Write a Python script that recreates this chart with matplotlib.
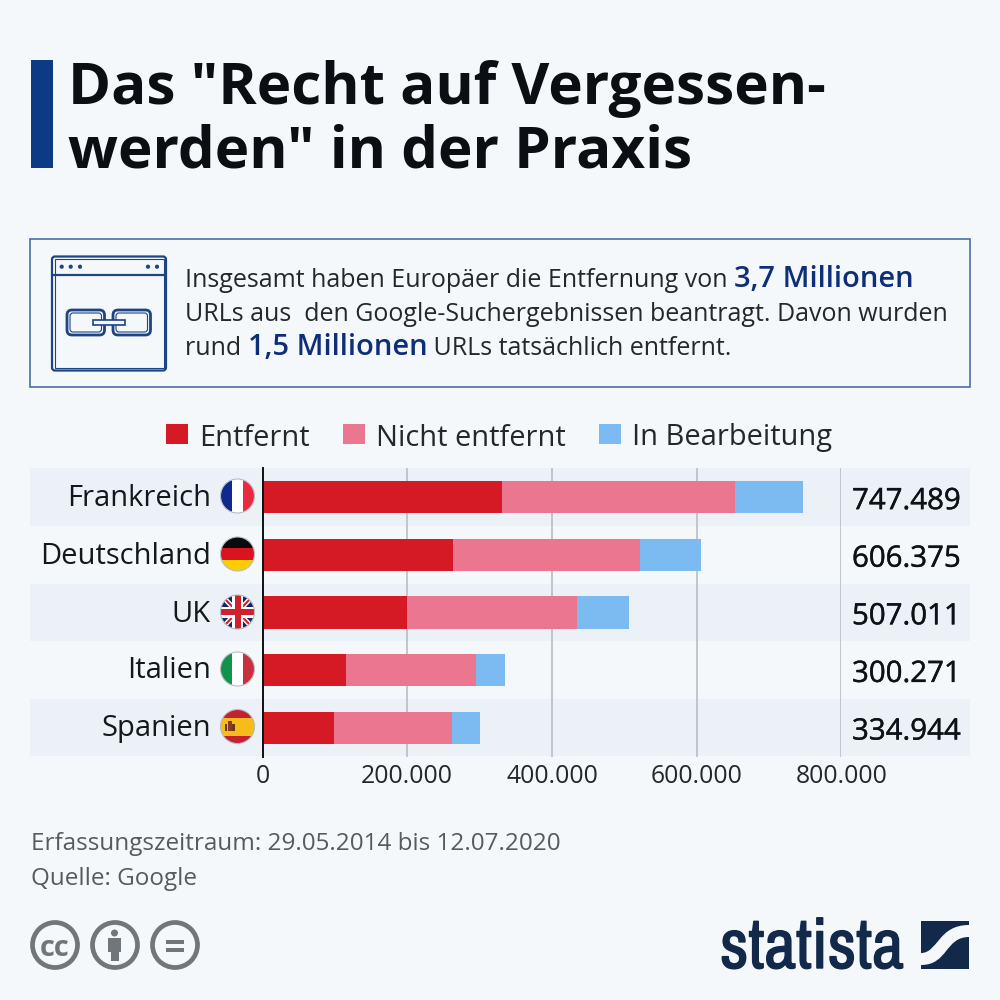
import numpy as np
import matplotlib
matplotlib.use('Agg')
import matplotlib.pyplot as plt
import matplotlib.patheffects as pe
from matplotlib import font_manager
from matplotlib.patches import Circle, Rectangle, FancyBboxPatch, Polygon, PathPatch
from matplotlib.path import Path

countries = ['Frankreich', 'Deutschland', 'UK', 'Italien', 'Spanien']
entfernt = [331500, 263500, 199500, 115000, 99000]
nicht_entfernt = [321500, 258500, 235500, 180000, 162500]
in_bearbeitung = [94489, 84375, 72011, 39944, 38771]
total_labels = ['747.489', '606.375', '507.011', '300.271', '334.944']
x_ticks = [0, 200000, 400000, 600000, 800000]
x_tick_labels = ['0', '200.000', '400.000', '600.000', '800.000']
legend_names = ['Entfernt', 'Nicht entfernt', 'In Bearbeitung']

BG = '#f4f8fb'
BAND = '#ecf1f7'
RED = '#d61a25'
PINK = '#ea7690'
BLUE = '#7bbbf1'
NAVY = '#0d3a85'
DARK = '#12161c'
GREY = '#555b60'
LOGO = '#12294a'

plt.rcParams['font.family'] = ['Open Sans', 'DejaVu Sans']

fig = plt.figure(figsize=(10, 10), dpi=100, facecolor=BG)

# page layer in pixels, y going down
bg = fig.add_axes([0, 0, 1, 1])
bg.set_xlim(0, 1000)
bg.set_ylim(1000, 0)
bg.axis('off')

# title
bg.add_patch(Rectangle((31, 60), 22, 108, color=NAVY, lw=0))
bg.text(68, 104, 'Das "Recht auf Vergessen-', fontsize=42, fontweight='bold', color='#0b0e12', va='baseline')
bg.text(68, 168, 'werden" in der Praxis', fontsize=42, fontweight='bold', color='#0b0e12', va='baseline')

# info box
bg.add_patch(Rectangle((29.5, 239), 940.5, 148, fc='none', ec='#4a6ea6', lw=1.2))
ic = '#1d4585'
bg.add_patch(FancyBboxPatch((52, 256.5), 114, 114, boxstyle='round,pad=0,rounding_size=3', fc='none', ec=ic, lw=1.6))
bg.add_patch(Rectangle((54.5, 259), 109, 109, fc='none', ec=ic, lw=0.8))
bg.plot([53, 165], [275, 275], color=ic, lw=1.6)
for dx in [61.7, 70.7, 80, 148, 157]:
    bg.add_patch(Circle((dx, 266.7), 2.1, fc=ic, lw=0))
for lx in [67, 113]:
    bg.add_patch(FancyBboxPatch((lx, 310), 37.5, 25, boxstyle='round,pad=0,rounding_size=5', fc='none', ec=ic, lw=2))
    bg.add_patch(FancyBboxPatch((lx + 3, 313), 31.5, 19, boxstyle='round,pad=0,rounding_size=3', fc='none', ec=ic, lw=0.8))
bg.add_patch(Rectangle((93, 320), 32, 5, fc=BG, ec=ic, lw=1.2))


def segments(x, y, parts, size):
    # write bold and normal pieces one after another on the same line
    r = fig.canvas.get_renderer()
    for txt, hi in parts:
        t = bg.text(x, y, txt, fontsize=21 if hi else size, va='baseline',
                    color='#0f2e78' if hi else '#23282d', fontweight=600 if hi else 'normal')
        x = t.get_window_extent(r).x1


segments(185, 287, [('Insgesamt haben Europäer die Entfernung von ', False), ('3,7 Millionen', True)], 18)
segments(185, 321, [('URLs aus  den Google-Suchergebnissen beantragt. Davon wurden', False)], 18)
segments(185, 355, [('rund ', False), ('1,5 Millionen', True), (' URLs tatsächlich entfernt.', False)], 18)

# legend
leg_x = [166, 343, 599]
for lx, name, col in zip(leg_x, legend_names, [RED, PINK, BLUE]):
    bg.add_patch(Rectangle((lx, 424), 22, 20, color=col, lw=0))
    bg.text(lx + 33.5, 445.5, name, fontsize=20.9, color='#23282d', va='baseline')

# row bands and labels
row_top = 468.3
row_h = 57.6
for i in [0, 2, 4]:
    bg.add_patch(Rectangle((30, row_top + i * row_h), 940, row_h, color=BAND, lw=0))

cy = [496, 554, 612, 669, 726.5]
R = 17


def disc(y):
    return Circle((237.5, y), R, transform=bg.transData)


def flag_rect(y, x0, y0, w, h, col):
    p = Rectangle((x0, y0), w, h, color=col, lw=0)
    bg.add_patch(p)
    p.set_clip_path(disc(y))


def flag_poly(y, pts, col):
    p = Polygon(pts, color=col, lw=0)
    bg.add_patch(p)
    p.set_clip_path(disc(y))


# France
y = cy[0]
for k, c in enumerate(['#0f2a8f', '#ffffff', '#e8293e']):
    flag_rect(y, 220.5 + k * 11.33, y - R, 11.4, 2 * R, c)
# Germany
y = cy[1]
for k, c in enumerate(['#0b0b0b', '#d9141e', '#ffcc00']):
    flag_rect(y, 220, y - R + k * 11.33, 35, 11.4, c)
# UK
y = cy[2]
flag_rect(y, 220, y - R, 35, 2 * R, '#17245f')
xl, xr = 237.5 - R, 237.5 + R
flag_poly(y, [(xl, y - R + 3), (xl + 4, y - R), (xr, y + R - 3), (xr - 4, y + R)], '#ffffff')
flag_poly(y, [(xr, y - R + 3), (xr - 4, y - R), (xl, y + R - 3), (xl + 4, y + R)], '#ffffff')
flag_poly(y, [(xl, y - R + 1), (xl + 2, y - R), (xr, y + R - 1), (xr - 2, y + R)], '#d0202e')
flag_poly(y, [(xr, y - R + 1), (xr - 2, y - R), (xl, y + R - 1), (xl + 2, y + R)], '#d0202e')
flag_rect(y, 220, y - 5.5, 35, 11, '#ffffff')
flag_rect(y, 232, y - R, 11, 2 * R, '#ffffff')
flag_rect(y, 220, y - 3, 35, 6, '#d0202e')
flag_rect(y, 234.5, y - R, 6, 2 * R, '#d0202e')
# Italy
y = cy[3]
for k, c in enumerate(['#12924a', '#ffffff', '#c8303f']):
    flag_rect(y, 220.5 + k * 11.33, y - R, 11.4, 2 * R, c)
# Spain
y = cy[4]
flag_rect(y, 220, y - R, 35, 2 * R, '#c5202e')
flag_rect(y, 220, y - 9, 35, 18, '#f7bb1a')
flag_rect(y, 224.5, y - 3, 2.5, 7, '#6b3a1c')
flag_rect(y, 232, y - 3, 2.5, 7, '#6b3a1c')
flag_rect(y, 227.5, y - 6, 4, 10, '#8a3a1c')

for yy in cy:
    bg.add_patch(Circle((237.5, yy), R, fc='none', ec='#b8bcc4', lw=0.8))

for name, yy in zip(countries, cy):
    bg.text(211, yy + 9.5, name, fontsize=21, color='#14181d', ha='right', va='baseline')

# chart
ax = fig.add_axes([0.2625, 1 - 0.7567, 0.579, 0.2884], facecolor='none')
ypos = np.arange(len(countries))
ax.set_xlim(0, 800000)
ax.set_ylim(4.5, -0.5)
e = np.array(entfernt)
n = np.array(nicht_entfernt)
b = np.array(in_bearbeitung)
ax.grid(axis='x', color='#b5b9bf', lw=1.1)
ax.set_axisbelow(True)
ax.barh(ypos, e, height=0.565, color=RED)
ax.barh(ypos, n, left=e, height=0.565, color=PINK)
ax.barh(ypos, b, left=e + n, height=0.565, color=BLUE)
for s in ['top', 'right', 'bottom']:
    ax.spines[s].set_visible(False)
ax.spines['left'].set_color('#111111')
ax.spines['left'].set_linewidth(1.4)
ax.set_yticks([])
ax.set_xticks(x_ticks)
ax.set_xticklabels(x_tick_labels, fontsize=17.8, color='#23282d')
ax.tick_params(axis='x', length=0, pad=5)

# totals at the right
for lab, i in zip(total_labels, ypos):
    t = bg.text(852, row_top + (i + 0.5) * row_h + 12, lab, fontsize=21.2, color='#0e1216', va='baseline')
    t.set_path_effects([pe.withStroke(linewidth=0.3, foreground='#0e1216')])

# footer
bg.text(31, 850, 'Erfassungszeitraum: 29.05.2014 bis 12.07.2020', fontsize=17.5, color=GREY, va='baseline')
bg.text(31, 885, 'Quelle: Google', fontsize=17.5, color=GREY, va='baseline')

# licence badges
cc = '#70767a'
for cx in [55, 115, 175]:
    bg.add_patch(Circle((cx, 945), 22.5, fc='none', ec=cc, lw=3.4))
bg.text(55, 945, 'cc', fontsize=21, fontweight='bold', color=cc, ha='center', va='center_baseline')
bg.add_patch(Circle((114.5, 933), 3.5, fc=cc, lw=0))
bg.add_patch(Rectangle((108, 938), 13, 14, fc=cc, lw=0))
bg.add_patch(Rectangle((110.5, 950), 8, 11, fc=cc, lw=0))
bg.add_patch(Rectangle((166, 939.5), 18, 4, fc=cc, lw=0))
bg.add_patch(Rectangle((166, 948), 18, 4, fc=cc, lw=0))

# logo, narrowest bold face there is, sized to the logo width
narrow = [f.name for f in font_manager.fontManager.ttflist
          if ('Condensed' in f.name or 'Narrow' in f.name or 'ondensed' in str(f.stretch))]
logo_font = sorted(set(narrow))[0] if narrow else 'Liberation Sans'
logo = bg.text(720, 968, 'statista', fontsize=40, fontweight='bold', color=LOGO, va='baseline', family=logo_font)
w = logo.get_window_extent(fig.canvas.get_renderer()).width
logo.set_fontsize(40 * 184 / w)
logo.set_path_effects([pe.withStroke(linewidth=1.0, foreground=LOGO)])
bg.add_patch(Rectangle((921, 921), 48, 48, fc=LOGO, lw=0))
swoosh = Path([(921, 953), (938, 953), (938, 925), (969, 925), (969, 937), (945, 937), (948, 965), (921, 965), (921, 953)],
              [Path.MOVETO, Path.CURVE4, Path.CURVE4, Path.CURVE4, Path.LINETO, Path.CURVE4, Path.CURVE4, Path.CURVE4, Path.CLOSEPOLY])
bg.add_patch(PathPatch(swoosh, fc=BG, lw=0))

fig.savefig('out.png', dpi=100, facecolor=BG)
